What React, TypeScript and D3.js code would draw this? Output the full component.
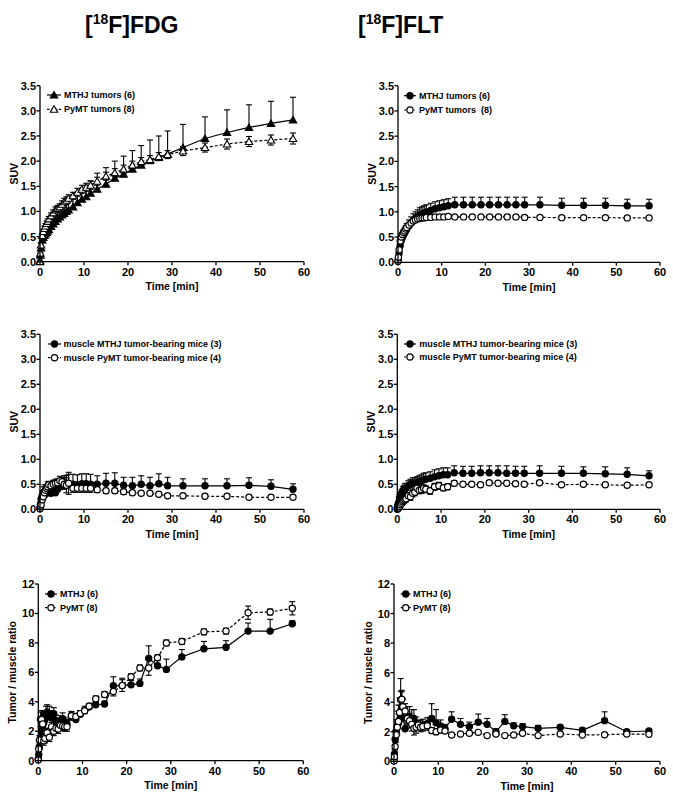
import React from "react";
import * as d3 from "d3";

const TIME = [0, 0.1, 0.25, 0.5, 0.75, 1, 1.25, 1.5, 1.75, 2, 2.5, 3, 3.5, 4, 4.5, 5, 5.5, 6, 6.5, 7.5, 8.5, 9.5, 10.5, 11.5, 13, 15, 17, 19, 21, 23, 25, 27, 29, 32.5, 37.5, 42.5, 47.5, 52.5, 57.5];

const FDG_T_MTHJ = [0.02,0.13,0.27,0.43,0.48, 0.52,0.55,0.58,0.61,0.64, 0.70,0.75,0.80,0.85,0.89, 0.93,0.96,1.00,1.03,1.09, 1.17,1.24,1.29,1.36,1.44, 1.54,1.66,1.74,1.84,1.92, 2.01,2.07,2.14,2.27,2.45, 2.57,2.67,2.75,2.82];
const FDG_T_MTHJ_ERR = [0.01,0.02,0.04,0.06,0.07, 0.08,0.08,0.09,0.09,0.10, 0.11,0.12,0.13,0.14,0.15, 0.16,0.17,0.18,0.19,0.20, 0.21,0.22,0.23,0.25,0.32, 0.33,0.34,0.36,0.37,0.39, 0.41,0.43,0.46,0.46,0.43, 0.45,0.45,0.44,0.45];
const FDG_T_PYMT = [0.00,0.17,0.33,0.52,0.60, 0.66,0.71,0.76,0.80,0.85, 0.91,0.97,1.03,1.06,1.09, 1.14,1.19,1.22,1.26,1.31, 1.38,1.44,1.48,1.52,1.60, 1.70,1.77,1.84,1.92,1.99, 2.03,2.09,2.13,2.20,2.27, 2.34,2.39,2.42,2.45];
const FDG_T_PYMT_ERR = [0,0.02,0.03,0.04,0.04, 0.05,0.05,0.05,0.05,0.05, 0.06,0.06,0.06,0.06,0.06, 0.07,0.07,0.07,0.07,0.07, 0.08,0.08,0.08,0.08,0.08, 0.08,0.08,0.08,0.08,0.08, 0.08,0.08,0.08,0.09,0.09, 0.10,0.10,0.10,0.11];

const FLT_T_MTHJ = [0.02,0.08,0.18,0.33,0.43, 0.49,0.54,0.58,0.62,0.66, 0.72,0.78,0.83,0.87,0.91, 0.94,0.96,0.98,1.00,1.03, 1.06,1.08,1.10,1.12,1.14, 1.14,1.14,1.14,1.14,1.14, 1.14,1.14,1.14,1.14,1.13, 1.13,1.13,1.12,1.12];
const FLT_T_MTHJ_ERR = [0.01,0.02,0.04,0.06,0.08, 0.09,0.10,0.10,0.11,0.11, 0.12,0.12,0.13,0.13,0.13, 0.14,0.14,0.14,0.14,0.14, 0.14,0.14,0.14,0.14,0.15, 0.15,0.15,0.15,0.15,0.15, 0.15,0.15,0.15,0.15,0.14, 0.14,0.14,0.13,0.13];
const FLT_T_PYMT = [0.02,0.10,0.25,0.42,0.50, 0.55,0.59,0.62,0.66,0.69, 0.74,0.78,0.82,0.84,0.86, 0.87,0.88,0.88,0.89,0.89, 0.90,0.90,0.90,0.91,0.90, 0.90,0.90,0.90,0.90,0.90, 0.90,0.90,0.89,0.89,0.885, 0.885,0.885,0.88,0.88];
const FLT_T_PYMT_ERR = [0,0.01,0.02,0.02,0.03, 0.03,0.03,0.03,0.03,0.03, 0.03,0.03,0.03,0.03,0.03, 0.03,0.03,0.03,0.03,0.03, 0.03,0.03,0.03,0.03,0.03, 0.03,0.03,0.03,0.03,0.03, 0.03,0.03,0.03,0.03,0.03, 0.03,0.03,0.03,0.03];

const FDG_M_MTHJ = [0.02,0.10,0.20,0.27,0.33, 0.35,0.30,0.35,0.40,0.35, 0.32,0.38,0.33,0.40,0.45, 0.47,0.49,0.50,0.50,0.50, 0.49,0.51,0.51,0.50,0.50, 0.52,0.52,0.48,0.47,0.50, 0.47,0.51,0.47,0.47,0.47, 0.47,0.48,0.46,0.40];
const FDG_M_MTHJ_ERR = [0.01,0.03,0.06,0.10,0.12, 0.14,0.12,0.14,0.15,0.13, 0.12,0.13,0.10,0.12,0.15, 0.15,0.18,0.18,0.20,0.20, 0.20,0.20,0.20,0.20,0.17, 0.20,0.21,0.16,0.17,0.17, 0.17,0.20,0.17,0.14,0.14, 0.14,0.15,0.13,0.11];
const FDG_M_PYMT = [0.01,0.05,0.09,0.19,0.25, 0.33,0.38,0.42,0.45,0.49, 0.47,0.50,0.52,0.53,0.57, 0.55,0.50,0.48,0.52,0.42, 0.42,0.42,0.42,0.42,0.39, 0.37,0.37,0.35,0.33,0.32, 0.32,0.30,0.27,0.27,0.26, 0.26,0.24,0.24,0.24];
const FDG_M_PYMT_ERR = [0,0.01,0.02,0.03,0.04, 0.05,0.05,0.06,0.06,0.07, 0.07,0.08,0.08,0.08,0.09, 0.09,0.10,0.15,0.22,0.08, 0.08,0.08,0.08,0.08,0.05, 0.05,0.05,0.05,0.04,0.04, 0.04,0.04,0.04,0.04,0.04, 0.04,0.04,0.04,0.04];

const FLT_M_MTHJ = [0.02,0.07,0.12,0.22,0.27, 0.32,0.36,0.39,0.41,0.42, 0.47,0.49,0.52,0.52,0.53, 0.55,0.57,0.59,0.60,0.62, 0.65,0.67,0.69,0.69,0.73, 0.72,0.72,0.73,0.73,0.73, 0.72,0.72,0.72,0.72,0.72, 0.72,0.71,0.70,0.67];
const FLT_M_MTHJ_ERR = [0.01,0.03,0.05,0.07,0.08, 0.08,0.09,0.09,0.10,0.10, 0.10,0.11,0.11,0.11,0.12, 0.12,0.12,0.13,0.13,0.13, 0.14,0.14,0.14,0.14,0.14, 0.14,0.14,0.14,0.14,0.14, 0.15,0.14,0.14,0.15,0.14, 0.13,0.14,0.13,0.10];
const FLT_M_PYMT = [0.00,0.01,0.02,0.05,0.09, 0.12,0.15,0.17,0.19,0.21, 0.27,0.25,0.32,0.34,0.42, 0.38,0.39,0.42,0.40,0.37, 0.45,0.47,0.43,0.45,0.52, 0.50,0.50,0.49,0.53,0.52, 0.52,0.51,0.50,0.53,0.49, 0.50,0.49,0.48,0.49];
const FLT_M_PYMT_ERR = [0,0.01,0.01,0.02,0.03, 0.04,0.05,0.05,0.05,0.06, 0.06,0.07,0.07,0.07,0.07, 0.07,0.07,0.07,0.07,0.07, 0.07,0.07,0.06,0.06,0.05, 0.04,0.04,0.04,0.04,0.04, 0.04,0.04,0.04,0.04,0.03, 0.03,0.03,0.03,0.03];

const FDG_R_MTHJ = [0.10,0.40,0.90,1.50,2.00, 2.40,2.60,2.80,3.10,3.30, 3.20,2.90,3.20,2.70,2.60, 2.70,2.85,2.60,2.50,3.00, 2.80,3.15,3.40,3.65,3.80, 3.85,5.10,5.10,5.15,5.25, 6.95,6.45,6.20,7.05,7.60, 7.70,8.80,8.80,9.30];
const FDG_R_MTHJ_ERR = [0.05,0.20,0.30,0.50,0.80, 1.00,0.80,0.60,0.60,0.50, 0.50,0.50,0.40,0.40,0.30, 0.35,0.40,0.30,0.30,0.30, 0.25,0.25,0.30,0.20,0.20, 0.20,0.60,0.50,0.30,0.30, 0.85,0.50,0.70,0.50,0.50, 0.45,0.55,0.80,0.20];
const FDG_R_PYMT = [0.05,0.80,1.40,2.80,2.80, 2.50,1.35,1.50,1.90,1.90, 1.60,2.30,2.00,2.20,2.15, 2.40,2.35,2.30,2.30,3.05, 3.00,3.20,3.40,3.70,4.20, 4.50,4.70,5.10,5.70,6.30, 6.30,7.00,8.00,8.10,8.75, 8.80,10.05,10.10,10.35];
const FDG_R_PYMT_ERR = [0,0.20,0.30,0.50,0.60, 0.60,0.30,0.30,0.30,0.30, 0.30,0.30,0.30,0.30,0.30, 0.30,0.30,0.30,0.30,0.30, 0.20,0.20,0.20,0.20,0.20, 0.20,0.30,0.40,0.20,0.20, 0.50,0.20,0.20,0.20,0.20, 0.20,0.45,0.20,0.45];

const FLT_R_MTHJ = [0.05,0.50,1.50,2.00,2.40, 2.60,2.80,3.20,3.00,3.00, 2.20,2.90,3.00,2.80,2.90, 2.50,2.35,2.40,2.45,2.55, 2.90,2.60,2.40,2.20,2.85, 2.50,2.35,2.65,2.50,2.00, 2.70,2.40,2.35,2.23,2.30, 2.10,2.75,2.00,2.05];
const FLT_R_MTHJ_ERR = [0,0.30,0.60,0.80,1.00, 1.20,1.50,2.40,1.80,1.20, 0.90,0.80,0.70,0.70,0.60, 0.50,0.40,0.40,0.40,0.40, 1.00,0.90,0.40,0.30,0.50, 0.40,0.30,0.55,0.40,0.20, 0.45,0.20,0.20,0.20,0.15, 0.15,0.60,0.10,0.10];
const FLT_R_PYMT = [0.02,0.30,1.00,1.80,2.30, 2.70,3.30,4.15,4.20,3.70, 3.40,2.90,2.75,2.50,2.23, 2.30,2.45,2.30,2.35,2.40, 2.08,2.00,2.12,2.05,1.78, 1.85,1.90,1.96,1.74,1.85, 1.74,1.78,1.90,1.74,1.85, 1.78,1.80,1.85,1.83];
const FLT_R_PYMT_ERR = [0,0.10,0.30,0.50,0.50, 0.50,0.50,0.60,0.50,0.50, 0.50,0.50,0.50,0.45,0.45, 0.40,0.30,0.30,0.30,0.30, 0.20,0.20,0.20,0.15,0.10, 0.10,0.10,0.10,0.10,0.10, 0.10,0.10,0.10,0.10,0.10, 0.10,0.10,0.10,0.10];

const SUV_TICKS = [0, 0.5, 1, 1.5, 2, 2.5, 3, 3.5];
const RATIO_TICKS = [0, 2, 4, 6, 8, 10, 12];
const X_TICKS = [0, 10, 20, 30, 40, 50, 60];

const LEG_TUMOR = ["MTHJ tumors (6)", "PyMT tumors (8)"];
const LEG_TUMOR_FLT = ["MTHJ tumors (6)", "PyMT tumors  (8)"];
const LEG_MUSCLE = ["muscle MTHJ tumor-bearing mice (3)", "muscle PyMT tumor-bearing mice (4)"];
const LEG_RATIO = ["MTHJ (6)", "PyMT (8)"];

const FONT = "'Liberation Sans', Arial, Helvetica, sans-serif";
const TITLE_FONT = "'Liberation Sans Narrow', 'Arial Narrow', 'Liberation Sans', sans-serif";

type Cfg = {
  x0: number; x1: number; yT: number; yB: number;
  yMax: number; yTicks: number[]; yFmt: (v: number) => string;
  yLabel: string; marker: "tri" | "circ";
  s1: number[]; e1: number[]; s2: number[]; e2: number[];
  legend: string[]; legX0: number; legX1: number; legTx: number; legY: number[];
};

const fmt1 = d3.format(".1f");
const fmt0 = d3.format("d");

const PANELS: Cfg[] = [
  { x0: 40, x1: 304, yT: 85.7, yB: 261.7, yMax: 3.5, yTicks: SUV_TICKS, yFmt: fmt1, yLabel: "SUV", marker: "tri",
    s1: FDG_T_MTHJ, e1: FDG_T_MTHJ_ERR, s2: FDG_T_PYMT, e2: FDG_T_PYMT_ERR,
    legend: LEG_TUMOR, legX0: 47, legX1: 61, legTx: 64, legY: [95, 109.3] },
  { x0: 398, x1: 660, yT: 85.7, yB: 262.3, yMax: 3.5, yTicks: SUV_TICKS, yFmt: fmt1, yLabel: "SUV", marker: "circ",
    s1: FLT_T_MTHJ, e1: FLT_T_MTHJ_ERR, s2: FLT_T_PYMT, e2: FLT_T_PYMT_ERR,
    legend: LEG_TUMOR_FLT, legX0: 404, legX1: 416, legTx: 419, legY: [95.7, 110] },
  { x0: 40, x1: 304, yT: 334.3, yB: 509.3, yMax: 3.5, yTicks: SUV_TICKS, yFmt: fmt1, yLabel: "SUV", marker: "circ",
    s1: FDG_M_MTHJ, e1: FDG_M_MTHJ_ERR, s2: FDG_M_PYMT, e2: FDG_M_PYMT_ERR,
    legend: LEG_MUSCLE, legX0: 48, legX1: 61, legTx: 63.5, legY: [344, 357.7] },
  { x0: 397.3, x1: 660, yT: 334.3, yB: 509.3, yMax: 3.5, yTicks: SUV_TICKS, yFmt: fmt1, yLabel: "SUV", marker: "circ",
    s1: FLT_M_MTHJ, e1: FLT_M_MTHJ_ERR, s2: FLT_M_PYMT, e2: FLT_M_PYMT_ERR,
    legend: LEG_MUSCLE, legX0: 404, legX1: 416, legTx: 419.3, legY: [344, 357] },
  { x0: 38.3, x1: 303.3, yT: 584, yB: 760.7, yMax: 12, yTicks: RATIO_TICKS, yFmt: fmt0, yLabel: "Tumor / muscle ratio", marker: "circ",
    s1: FDG_R_MTHJ, e1: FDG_R_MTHJ_ERR, s2: FDG_R_PYMT, e2: FDG_R_PYMT_ERR,
    legend: LEG_RATIO, legX0: 45, legX1: 57, legTx: 60, legY: [594, 607.7] },
  { x0: 394, x1: 660, yT: 584, yB: 761.3, yMax: 12, yTicks: RATIO_TICKS, yFmt: fmt0, yLabel: "Tumor / muscle ratio", marker: "circ",
    s1: FLT_R_MTHJ, e1: FLT_R_MTHJ_ERR, s2: FLT_R_PYMT, e2: FLT_R_PYMT_ERR,
    legend: LEG_RATIO, legX0: 400.7, legX1: 410.7, legTx: 413, legY: [594, 607.7] },
];

const triPath = d3.symbol(d3.symbolTriangle, 24)() as string;

function Marker({ kind, filled, x, y }: { kind: "tri" | "circ"; filled: boolean; x: number; y: number }) {
  const fill = filled ? "#000" : "#fff";
  if (kind === "tri") {
    return <path d={triPath} transform={`translate(${x},${y + 0.8})`} fill={fill} stroke="#000" strokeWidth={1.1} />;
  }
  return <circle cx={x} cy={y} r={3.1} fill={fill} stroke="#000" strokeWidth={1.2} />;
}

function Panel({ c }: { c: Cfg }) {
  const x = d3.scaleLinear().domain([0, 60]).range([c.x0, c.x1]);
  const y = d3.scaleLinear().domain([0, c.yMax]).range([c.yB, c.yT]);
  const line = d3.line<number>().x((_, i) => x(TIME[i])).y((d) => y(d));
  const series = [
    { v: c.s1, e: c.e1, filled: true, dash: undefined as string | undefined, dir: "up" },
    { v: c.s2, e: c.e2, filled: false, dash: "3,2", dir: "both" },
  ];
  const cap = 3;
  return (
    <g>
      {series.map((s, si) => (
        <g key={si}>
          <path d={line(s.v) || ""} fill="none" stroke="#000" strokeWidth={1.2} strokeDasharray={s.dash} />
          {s.v.map((v, i) => {
            const e = s.e[i];
            if (!e) return null;
            const px = x(TIME[i]);
            const top = y(v + e);
            const bot = s.dir === "both" ? y(Math.max(0, v - e)) : y(v);
            return (
              <g key={i} stroke="#000" strokeWidth={1.1}>
                <line x1={px} x2={px} y1={top} y2={bot} />
                <line x1={px - cap} x2={px + cap} y1={top} y2={top} />
                {s.dir === "both" && <line x1={px - cap} x2={px + cap} y1={bot} y2={bot} />}
              </g>
            );
          })}
          {s.v.map((v, i) => (
            <Marker key={"m" + i} kind={c.marker} filled={s.filled} x={x(TIME[i])} y={y(v)} />
          ))}
        </g>
      ))}
      <g stroke="#000" strokeWidth={1.3}>
        <line x1={c.x0} x2={c.x0} y1={c.yT} y2={c.yB} />
        <line x1={c.x0} x2={c.x1} y1={c.yB} y2={c.yB} />
        {c.yTicks.map((t) => (
          <line key={"yt" + t} x1={c.x0 - 3.5} x2={c.x0} y1={y(t)} y2={y(t)} />
        ))}
        {X_TICKS.map((t) => (
          <line key={"xt" + t} x1={x(t)} x2={x(t)} y1={c.yB} y2={c.yB + 3.5} />
        ))}
      </g>
      <g fontFamily={FONT} fontWeight="bold" fontSize={11} fill="#000">
        {c.yTicks.map((t) => (
          <text key={"yl" + t} x={c.x0 - 4} y={y(t)} textAnchor="end" dominantBaseline="central">{c.yFmt(t)}</text>
        ))}
        {X_TICKS.map((t) => (
          <text key={"xl" + t} x={x(t)} y={c.yB + 14} textAnchor="middle">{t}</text>
        ))}
        <text x={(c.x0 + c.x1) / 2} y={c.yB + 28.5} textAnchor="middle" fontSize={10.5}>Time [min]</text>
        <text transform={`translate(${c.x0 - 26.5},${(c.yT + c.yB) / 2}) rotate(-90)`} textAnchor="middle" dominantBaseline="central" fontSize={10.5}>{c.yLabel}</text>
      </g>
      {c.legend.map((lab, i) => (
        <g key={"lg" + i}>
          <line x1={c.legX0} x2={c.legX1} y1={c.legY[i]} y2={c.legY[i]} stroke="#000" strokeWidth={1.2} strokeDasharray={i === 1 ? "2.5,1.5" : undefined} />
          <Marker kind={c.marker} filled={i === 0} x={(c.legX0 + c.legX1) / 2} y={c.legY[i]} />
          <text x={c.legTx} y={c.legY[i]} dominantBaseline="central" fontFamily={FONT} fontWeight="bold" fontSize={9} style={{ whiteSpace: "pre" }}>{lab}</text>
        </g>
      ))}
    </g>
  );
}

function Title({ x, rest }: { x: number; rest: string }) {
  return (
    <text x={x} y={33} fontFamily={TITLE_FONT} fontWeight="bold" fontSize={23} fill="#000">
      [<tspan fontSize={14} dy={-9}>18</tspan><tspan dy={9}>{rest}</tspan>
    </text>
  );
}

export default function App() {
  return (
    <svg width={673} height={798} style={{ position: "absolute", left: 0, top: 0, background: "#fff" }}>
      <rect width={673} height={798} fill="#fff" />
      <Title x={85} rest="F]FDG" />
      <Title x={358} rest="F]FLT" />
      {PANELS.map((c, i) => (
        <Panel key={i} c={c} />
      ))}
    </svg>
  );
}
